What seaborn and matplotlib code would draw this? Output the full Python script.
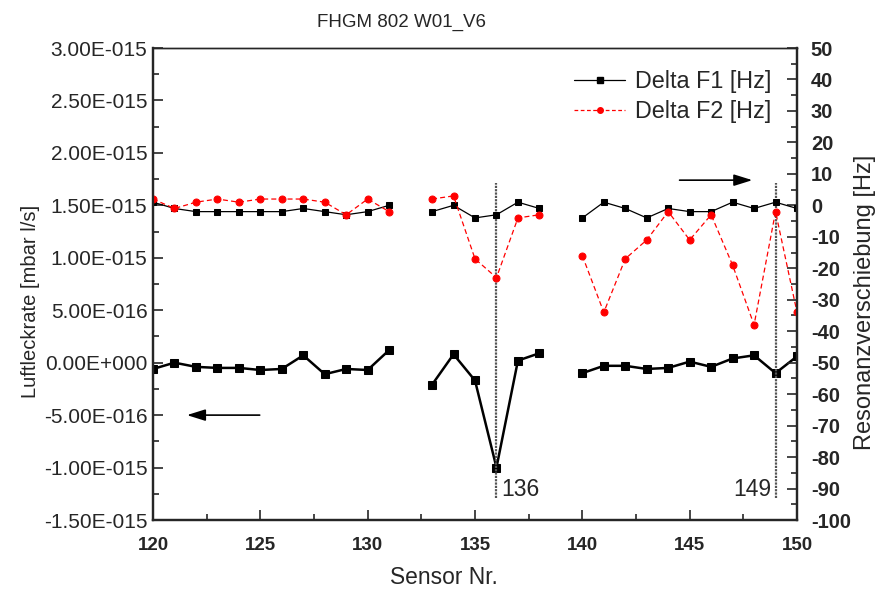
import numpy as np
import pandas as pd
import matplotlib
matplotlib.use("Agg")
import matplotlib.pyplot as plt
from matplotlib.ticker import MultipleLocator, FuncFormatter
from matplotlib.lines import Line2D
import seaborn as sns

# ---------------- data ----------------
sensor = [120, 121, 122, 123, 124, 125, 126, 127, 128, 129, 130, 131,
          133, 134, 135, 136, 137, 138,
          140, 141, 142, 143, 144, 145, 146, 147, 148, 149, 150]
segment = [1] * 12 + [2] * 6 + [3] * 11
leak_rate = [-0.06, 0.00, -0.04, -0.05, -0.05, -0.07, -0.06, 0.07, -0.11, -0.06, -0.07, 0.12,
             -0.21, 0.08, -0.17, -1.00, 0.02, 0.09,
             -0.10, -0.03, -0.03, -0.06, -0.05, 0.01, -0.04, 0.04, 0.07, -0.10, 0.06]
leak_rate = [v * 1e-15 for v in leak_rate]
delta_f1 = [1, -1, -2, -2, -2, -2, -2, -1, -2, -3, -2, 0,
            -2, 0, -4, -3, 1, -1,
            -4, 1, -1, -4, -1, -2, -2, 1, -1, 1, -1]
delta_f2 = [2, -1, 1, 2, 1, 2, 2, 2, 1, -3, 2, -2,
            2, 3, -17, -23, -4, -3,
            -16, -34, -17, -11, -2, -11, -3, -19, -38, -2, -34]
marked_sensors = [136, 149]

df = pd.DataFrame({"Sensor": sensor, "seg": segment, "Leak": leak_rate,
                   "F1": delta_f1, "F2": delta_f2})

# ---------------- style ----------------
sns.set_style("ticks")
plt.rcParams["font.family"] = ["Liberation Sans", "DejaVu Sans"]
plt.rcParams["font.size"] = 14
plt.rcParams["axes.unicode_minus"] = False

fig = plt.figure(figsize=(8.8, 5.9), dpi=100)
ax = fig.add_axes([153 / 880, 1 - 520 / 590, (797 - 153) / 880, (520 - 48) / 590])
ax2 = ax.twinx()

# leak rate (left axis)
sns.lineplot(data=df, x="Sensor", y="Leak", units="seg", estimator=None, ax=ax,
             color="black", linewidth=1.8, marker="s", markersize=5.8,
             markeredgecolor="black", legend=False)

# resonance shifts (right axis)
sns.lineplot(data=df, x="Sensor", y="F1", units="seg", estimator=None, ax=ax2,
             color="black", linewidth=0.9, marker="s", markersize=5,
             markeredgecolor="black", legend=False)
sns.lineplot(data=df, x="Sensor", y="F2", units="seg", estimator=None, ax=ax2,
             color="red", linewidth=0.9, linestyle=(0, (4, 2.5)), marker="o", markersize=5,
             markeredgecolor="red", legend=False)

# limits & ticks
ax.set_xlim(120, 150)
ax.set_ylim(-1.5e-15, 3.0e-15)
ax2.set_ylim(-100, 50)
ax.xaxis.set_major_locator(MultipleLocator(5))
ax.xaxis.set_minor_locator(MultipleLocator(2.5))
ax.yaxis.set_major_locator(MultipleLocator(0.5e-15))
ax.yaxis.set_minor_locator(MultipleLocator(0.25e-15))
ax2.yaxis.set_major_locator(MultipleLocator(10))
ax2.yaxis.set_minor_locator(MultipleLocator(5))


def sci_fmt(v, pos):
    if abs(v) < 1e-30:
        v = 0.0
    s = f"{v:.2E}"
    m, e = s.split("E")
    return f"{m}E{int(e):+04d}"


ax.yaxis.set_major_formatter(FuncFormatter(sci_fmt))

for a in (ax, ax2):
    a.tick_params(which="major", direction="in", length=7, width=1.2)
    a.tick_params(which="minor", direction="in", length=4, width=1.2)
ax.tick_params(axis="x", labelsize=13.5, pad=12)
ax.tick_params(axis="y", labelsize=15, pad=4)
ax2.tick_params(axis="y", labelsize=14.5, pad=10)
for lab in ax.get_xticklabels():
    lab.set_fontweight("bold")
for lab in ax2.get_yticklabels():
    lab.set_fontweight("bold")
ax.tick_params(top=False, right=False, which="both")

for a in (ax, ax2):
    for side in ("left", "right", "bottom"):
        a.spines[side].set_linewidth(1.6)
        a.spines[side].set_visible(True)
    a.spines["top"].set_linewidth(1.0)
    a.spines["top"].set_visible(True)

ax.set_xlabel("")
ax.set_ylabel("")
ax2.set_ylabel("")

# vertical marker lines
for s in marked_sensors:
    ax.vlines(s, -1.29e-15, 1.71e-15, colors="#555555", linestyles=(0, (1, 0.5)), linewidth=1.6)
ax.text(136.2, -1.21e-15, "136", ha="left", va="center", fontsize=16.5)
ax.text(148.8, -1.21e-15, "149", ha="right", va="center", fontsize=16.5)

# arrows
ax.annotate("", xy=(121.45, -0.5e-15), xytext=(125.1, -0.5e-15),
            arrowprops=dict(arrowstyle="-|>,head_length=0.8,head_width=0.25", color="black", lw=1.2))
ax2.annotate("", xy=(148.05, 8), xytext=(144.4, 8),
             arrowprops=dict(arrowstyle="-|>,head_length=0.8,head_width=0.25", color="black", lw=1.2))

# legend
handles = [
    Line2D([], [], color="black", lw=0.9, marker="s", markersize=4, label="Delta F1 [Hz]"),
    Line2D([], [], color="red", lw=0.9, linestyle=(0, (3, 2)), marker="o", markersize=4,
           label="Delta F2 [Hz]"),
]
ax2.legend(handles=handles, loc="upper right", bbox_to_anchor=((771 - 153) / 644, (520 - 70) / 472),
           frameon=False, fontsize=16.8, handlelength=2.2, handletextpad=0.4, labelspacing=0.3,
           borderaxespad=0, borderpad=0)

# titles / labels
fig.text(401 / 880, 1 - 22 / 590, "FHGM 802 W01_V6", ha="center", va="center", fontsize=13.5)
fig.text(444 / 880, 1 - 578 / 590, "Sensor Nr.", ha="center", va="center", fontsize=16.4)
fig.text(31 / 880, 1 - 301 / 590, "Luftleckrate [mbar l/s]", ha="center", va="center",
         rotation=90, fontsize=14.5)
fig.text(865 / 880, 1 - 302 / 590, "Resonanzverschiebung [Hz]", ha="center", va="center",
         rotation=90, fontsize=17)

fig.savefig("out.png", dpi=100)
